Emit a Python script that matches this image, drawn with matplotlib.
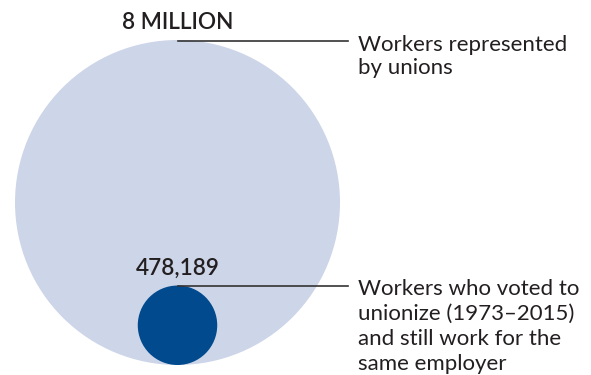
import numpy as np
import matplotlib.pyplot as plt
from matplotlib.patches import Circle

# data
labels = ['8 MILLION', '478,189']
values = [8000000, 478189]
descriptions = ['Workers represented\nby unions',
                'Workers who voted to\nunionize (1973\u20132015)\nand still work for the\nsame employer']
colors = ['#cdd5e8', '#004a8d']

fig = plt.figure(figsize=(5.91, 3.75), dpi=100, facecolor='w')
ax = fig.add_axes([0, 0, 1, 1])
ax.set_xlim(0, 591)
ax.set_ylim(375, 0)
ax.set_aspect('equal')
ax.axis('off')

big_r = 162.5
cx, bottom = 177.5, 365
radii = [big_r * np.sqrt(v / values[0]) for v in values]
desc_dy = [-5, -7]
desc_ls = [1.2, 1.32]

txt = '#231f20'
font = 'Lato'
for i, (lab, r, desc, col) in enumerate(zip(labels, radii, descriptions, colors)):
    cy = bottom - r
    ax.add_patch(Circle((cx, cy), r, facecolor=col, edgecolor='none', zorder=i + 1))
    top = cy - r
    # leader line from top of circle to label
    ax.plot([cx, 348], [top + 0.5, top + 0.5], color='#333333', lw=1.2, zorder=5)
    ax.text(cx, top - 11, lab, ha='center', va='baseline', fontsize=16.3,
            fontfamily=font, fontweight='semibold', color=txt, zorder=6)
    ax.text(358, top + desc_dy[i], desc, ha='left', va='top', fontsize=16,
            fontfamily=font, color=txt, linespacing=desc_ls[i], zorder=6)

fig.savefig('out.png', dpi=100)
